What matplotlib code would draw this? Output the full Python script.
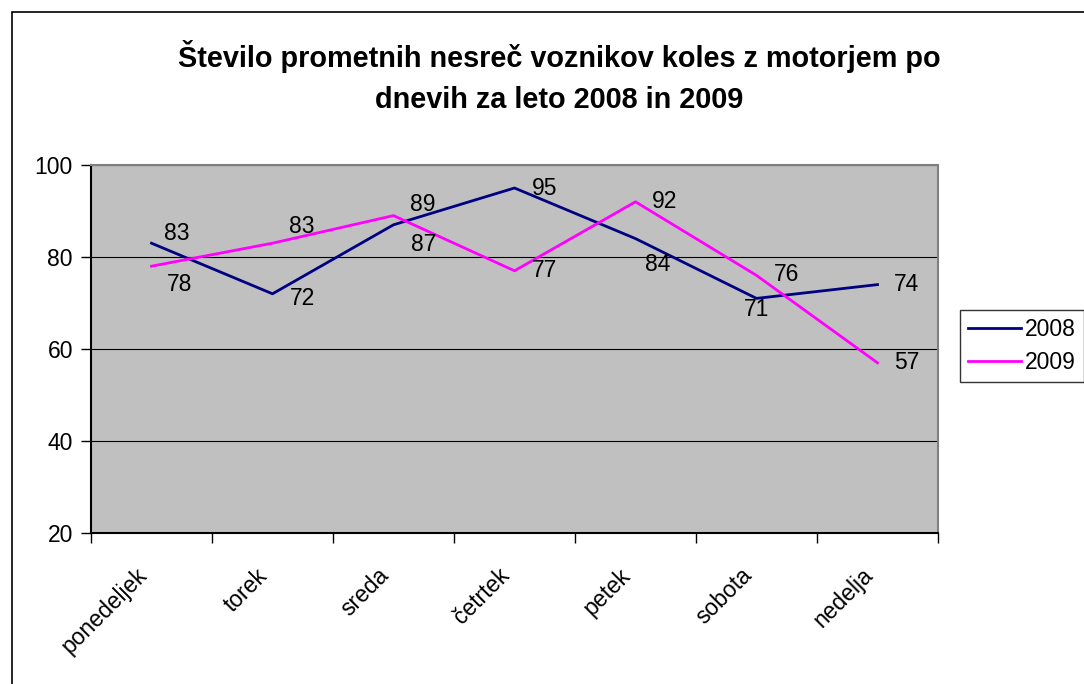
import matplotlib
matplotlib.use("Agg")
import matplotlib.pyplot as plt
from matplotlib.patches import Rectangle

plt.rcParams['font.family'] = ['Liberation Sans', 'DejaVu Sans']

days = ['ponedeljek', 'torek', 'sreda', 'četrtek', 'petek', 'sobota', 'nedelja']
y2008 = [83, 72, 87, 95, 84, 71, 74]
y2009 = [78, 83, 89, 77, 92, 76, 57]

# label offsets in pixels (dx, dy) for each point
off2008 = [(25, 10), (30, -5), (30, -20), (30, 0), (22, -26), (0, -11), (29, 0)]
off2009 = [(28, -18), (29, 17), (29, 11), (30, 0), (29, 0), (30, 1), (29, 0)]

fs = 16.5

fig = plt.figure(figsize=(10.84, 6.84), dpi=100)
ax = fig.add_axes([91/1084, 1-533/684, (938-91)/1084, (533-165)/684])
ax.set_facecolor('#C0C0C0')

x = list(range(len(days)))
l1, = ax.plot(x, y2008, color='#000080', lw=2, label='2008')
l2, = ax.plot(x, y2009, color='#FF00FF', lw=2, label='2009')

for xs, ys, offs in [(x, y2008, off2008), (x, y2009, off2009)]:
    for xi, yi, (dx, dy) in zip(xs, ys, offs):
        ax.annotate(str(yi), (xi, yi), xytext=(dx, dy), textcoords='offset pixels',
                    ha='center', va='center', fontsize=fs)

ax.set_xlim(-0.5, len(days) - 0.5)
ax.set_ylim(20, 100)
ax.set_yticks([20, 40, 60, 80, 100])
ax.yaxis.grid(True, color='black', lw=0.8)
ax.set_axisbelow(True)

ax.set_xticks(x)
ax.set_xticklabels(days, rotation=45, ha='right', va='bottom', rotation_mode='anchor', fontsize=fs)
ax.set_xticks([i - 0.5 for i in range(len(days) + 1)], minor=True)
ax.tick_params(axis='x', which='major', length=0, pad=34)
ax.tick_params(axis='x', which='minor', length=7, width=1, direction='out')
ax.tick_params(axis='y', length=7, width=1, labelsize=fs, pad=6)

ax.spines['left'].set_color('black')
ax.spines['bottom'].set_color('black')
ax.spines['top'].set_color('#808080')
ax.spines['right'].set_color('#808080')
for s in ax.spines.values():
    s.set_linewidth(1.5)

fig.text(559/1084, 1-77/684, 'Število prometnih nesreč voznikov koles z motorjem po\ndnevih za leto 2008 in 2009',
         ha='center', va='center', fontsize=20.8, fontweight='bold', linespacing=1.55)

leg = fig.legend(handles=[l1, l2], loc='upper left', bbox_to_anchor=(960/1084, 1-310/684),
                 fontsize=fs, frameon=True, fancybox=False, handlelength=2.3,
                 handletextpad=0.2, borderpad=0.35, labelspacing=0.45, borderaxespad=0)
leg.get_frame().set_edgecolor('black')
leg.get_frame().set_linewidth(1)

fig.patches.append(Rectangle((12/1084, -0.1), 1.2, 1-12/684+0.1, transform=fig.transFigure,
                             fill=False, edgecolor='black', lw=1.2))

fig.savefig('out.png', dpi=100)
